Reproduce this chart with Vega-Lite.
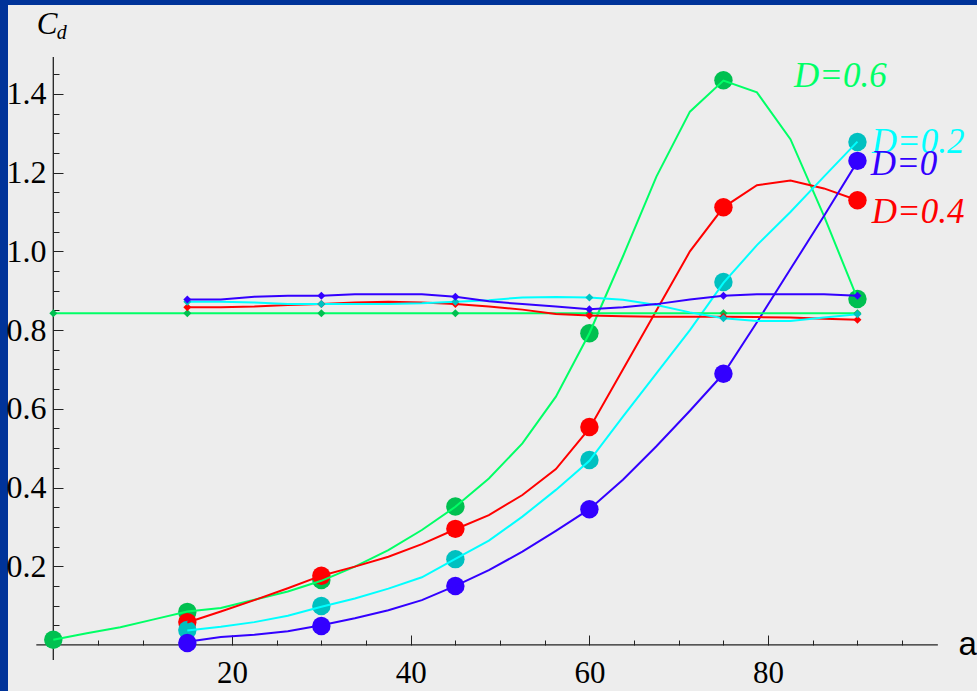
{
  "$schema": "https://vega.github.io/schema/vega-lite/v6.json",
  "width": 969,
  "height": 686,
  "autosize": {"type": "none"},
  "padding": {"left": 8, "top": 5, "right": 0, "bottom": 0},
  "background": "#003399",
  "view": {"fill": "#EDEDED", "stroke": null},
  "datasets": {
    "axislines": [
      {"a": -1.9, "a2": 99, "cd": 0, "cd2": 0},
      {"a": 0, "a2": 0, "cd": -0.038, "cd2": 1.494}
    ],
    "curves": [
      {"D": "0.6", "a": 0, "cd": 0.013}, {"D": "0.6", "a": 3.75, "cd": 0.03}, {"D": "0.6", "a": 7.5, "cd": 0.045}, {"D": "0.6", "a": 11.25, "cd": 0.065}, {"D": "0.6", "a": 15, "cd": 0.085}, {"D": "0.6", "a": 18.75, "cd": 0.094}, {"D": "0.6", "a": 22.5, "cd": 0.115}, {"D": "0.6", "a": 26.25, "cd": 0.136}, {"D": "0.6", "a": 30, "cd": 0.163}, {"D": "0.6", "a": 33.75, "cd": 0.199}, {"D": "0.6", "a": 37.5, "cd": 0.241}, {"D": "0.6", "a": 41.25, "cd": 0.292}, {"D": "0.6", "a": 45, "cd": 0.351}, {"D": "0.6", "a": 48.75, "cd": 0.423}, {"D": "0.6", "a": 52.5, "cd": 0.512}, {"D": "0.6", "a": 56.25, "cd": 0.631}, {"D": "0.6", "a": 60, "cd": 0.792}, {"D": "0.6", "a": 63.75, "cd": 0.987}, {"D": "0.6", "a": 67.5, "cd": 1.19}, {"D": "0.6", "a": 71.25, "cd": 1.355}, {"D": "0.6", "a": 75, "cd": 1.434}, {"D": "0.6", "a": 78.75, "cd": 1.404}, {"D": "0.6", "a": 82.5, "cd": 1.285}, {"D": "0.6", "a": 86.25, "cd": 1.09}, {"D": "0.6", "a": 90, "cd": 0.88},
      {"D": "0.4", "a": 15, "cd": 0.057}, {"D": "0.4", "a": 18.75, "cd": 0.085}, {"D": "0.4", "a": 22.5, "cd": 0.114}, {"D": "0.4", "a": 26.25, "cd": 0.144}, {"D": "0.4", "a": 30, "cd": 0.176}, {"D": "0.4", "a": 33.75, "cd": 0.199}, {"D": "0.4", "a": 37.5, "cd": 0.224}, {"D": "0.4", "a": 41.25, "cd": 0.256}, {"D": "0.4", "a": 45, "cd": 0.294}, {"D": "0.4", "a": 48.75, "cd": 0.33}, {"D": "0.4", "a": 52.5, "cd": 0.381}, {"D": "0.4", "a": 56.25, "cd": 0.447}, {"D": "0.4", "a": 60, "cd": 0.55}, {"D": "0.4", "a": 63.75, "cd": 0.7}, {"D": "0.4", "a": 67.5, "cd": 0.85}, {"D": "0.4", "a": 71.25, "cd": 1.0}, {"D": "0.4", "a": 75, "cd": 1.112}, {"D": "0.4", "a": 78.75, "cd": 1.168}, {"D": "0.4", "a": 82.5, "cd": 1.18}, {"D": "0.4", "a": 86.25, "cd": 1.16}, {"D": "0.4", "a": 90, "cd": 1.13},
      {"D": "0.2", "a": 15, "cd": 0.037}, {"D": "0.2", "a": 18.75, "cd": 0.046}, {"D": "0.2", "a": 22.5, "cd": 0.058}, {"D": "0.2", "a": 26.25, "cd": 0.074}, {"D": "0.2", "a": 30, "cd": 0.097}, {"D": "0.2", "a": 33.75, "cd": 0.118}, {"D": "0.2", "a": 37.5, "cd": 0.143}, {"D": "0.2", "a": 41.25, "cd": 0.172}, {"D": "0.2", "a": 45, "cd": 0.219}, {"D": "0.2", "a": 48.75, "cd": 0.265}, {"D": "0.2", "a": 52.5, "cd": 0.326}, {"D": "0.2", "a": 56.25, "cd": 0.394}, {"D": "0.2", "a": 60, "cd": 0.468}, {"D": "0.2", "a": 63.75, "cd": 0.58}, {"D": "0.2", "a": 67.5, "cd": 0.69}, {"D": "0.2", "a": 71.25, "cd": 0.8}, {"D": "0.2", "a": 75, "cd": 0.92}, {"D": "0.2", "a": 78.75, "cd": 1.016}, {"D": "0.2", "a": 82.5, "cd": 1.1}, {"D": "0.2", "a": 86.25, "cd": 1.19}, {"D": "0.2", "a": 90, "cd": 1.279},
      {"D": "0", "a": 15, "cd": 0.008}, {"D": "0", "a": 18.75, "cd": 0.02}, {"D": "0", "a": 22.5, "cd": 0.026}, {"D": "0", "a": 26.25, "cd": 0.035}, {"D": "0", "a": 30, "cd": 0.05}, {"D": "0", "a": 33.75, "cd": 0.068}, {"D": "0", "a": 37.5, "cd": 0.088}, {"D": "0", "a": 41.25, "cd": 0.114}, {"D": "0", "a": 45, "cd": 0.15}, {"D": "0", "a": 48.75, "cd": 0.19}, {"D": "0", "a": 52.5, "cd": 0.237}, {"D": "0", "a": 56.25, "cd": 0.29}, {"D": "0", "a": 60, "cd": 0.345}, {"D": "0", "a": 63.75, "cd": 0.42}, {"D": "0", "a": 67.5, "cd": 0.505}, {"D": "0", "a": 71.25, "cd": 0.595}, {"D": "0", "a": 75, "cd": 0.689}, {"D": "0", "a": 78.75, "cd": 0.82}, {"D": "0", "a": 82.5, "cd": 0.955}, {"D": "0", "a": 86.25, "cd": 1.09}, {"D": "0", "a": 90, "cd": 1.228}
    ],
    "dots": [
      {"D": "0.6", "a": 0, "cd": 0.013}, {"D": "0.6", "a": 15, "cd": 0.084}, {"D": "0.6", "a": 30, "cd": 0.165}, {"D": "0.6", "a": 45, "cd": 0.352}, {"D": "0.6", "a": 60, "cd": 0.792}, {"D": "0.6", "a": 75, "cd": 1.435}, {"D": "0.6", "a": 90, "cd": 0.879},
      {"D": "0.4", "a": 15, "cd": 0.058}, {"D": "0.4", "a": 30, "cd": 0.176}, {"D": "0.4", "a": 45, "cd": 0.295}, {"D": "0.4", "a": 60, "cd": 0.554}, {"D": "0.4", "a": 75, "cd": 1.112}, {"D": "0.4", "a": 90, "cd": 1.13},
      {"D": "0.2", "a": 15, "cd": 0.038}, {"D": "0.2", "a": 30, "cd": 0.099}, {"D": "0.2", "a": 45, "cd": 0.218}, {"D": "0.2", "a": 60, "cd": 0.47}, {"D": "0.2", "a": 75, "cd": 0.922}, {"D": "0.2", "a": 90, "cd": 1.278},
      {"D": "0", "a": 15, "cd": 0.005}, {"D": "0", "a": 30, "cd": 0.048}, {"D": "0", "a": 45, "cd": 0.15}, {"D": "0", "a": 60, "cd": 0.345}, {"D": "0", "a": 75, "cd": 0.689}, {"D": "0", "a": 90, "cd": 1.23}
    ],
    "flats": [
      {"D": "0.6", "a": 0, "cd": 0.843}, {"D": "0.6", "a": 15, "cd": 0.843}, {"D": "0.6", "a": 30, "cd": 0.843}, {"D": "0.6", "a": 45, "cd": 0.843}, {"D": "0.6", "a": 60, "cd": 0.843}, {"D": "0.6", "a": 75, "cd": 0.843}, {"D": "0.6", "a": 90, "cd": 0.843},
      {"D": "0.4", "a": 15, "cd": 0.858}, {"D": "0.4", "a": 18.75, "cd": 0.858}, {"D": "0.4", "a": 22.5, "cd": 0.86}, {"D": "0.4", "a": 26.25, "cd": 0.864}, {"D": "0.4", "a": 30, "cd": 0.866}, {"D": "0.4", "a": 33.75, "cd": 0.87}, {"D": "0.4", "a": 37.5, "cd": 0.872}, {"D": "0.4", "a": 41.25, "cd": 0.87}, {"D": "0.4", "a": 45, "cd": 0.866}, {"D": "0.4", "a": 48.75, "cd": 0.86}, {"D": "0.4", "a": 52.5, "cd": 0.852}, {"D": "0.4", "a": 56.25, "cd": 0.841}, {"D": "0.4", "a": 60, "cd": 0.837}, {"D": "0.4", "a": 63.75, "cd": 0.835}, {"D": "0.4", "a": 67.5, "cd": 0.834}, {"D": "0.4", "a": 71.25, "cd": 0.834}, {"D": "0.4", "a": 75, "cd": 0.834}, {"D": "0.4", "a": 78.75, "cd": 0.833}, {"D": "0.4", "a": 82.5, "cd": 0.832}, {"D": "0.4", "a": 86.25, "cd": 0.829}, {"D": "0.4", "a": 90, "cd": 0.826},
      {"D": "0.2", "a": 15, "cd": 0.872}, {"D": "0.2", "a": 18.75, "cd": 0.872}, {"D": "0.2", "a": 22.5, "cd": 0.87}, {"D": "0.2", "a": 26.25, "cd": 0.866}, {"D": "0.2", "a": 30, "cd": 0.866}, {"D": "0.2", "a": 33.75, "cd": 0.866}, {"D": "0.2", "a": 37.5, "cd": 0.866}, {"D": "0.2", "a": 41.25, "cd": 0.868}, {"D": "0.2", "a": 45, "cd": 0.872}, {"D": "0.2", "a": 48.75, "cd": 0.876}, {"D": "0.2", "a": 52.5, "cd": 0.883}, {"D": "0.2", "a": 56.25, "cd": 0.884}, {"D": "0.2", "a": 60, "cd": 0.883}, {"D": "0.2", "a": 63.75, "cd": 0.877}, {"D": "0.2", "a": 67.5, "cd": 0.864}, {"D": "0.2", "a": 71.25, "cd": 0.845}, {"D": "0.2", "a": 75, "cd": 0.83}, {"D": "0.2", "a": 78.75, "cd": 0.823}, {"D": "0.2", "a": 82.5, "cd": 0.823}, {"D": "0.2", "a": 86.25, "cd": 0.832}, {"D": "0.2", "a": 90, "cd": 0.84},
      {"D": "0", "a": 15, "cd": 0.878}, {"D": "0", "a": 18.75, "cd": 0.878}, {"D": "0", "a": 22.5, "cd": 0.885}, {"D": "0", "a": 26.25, "cd": 0.887}, {"D": "0", "a": 30, "cd": 0.887}, {"D": "0", "a": 33.75, "cd": 0.891}, {"D": "0", "a": 37.5, "cd": 0.891}, {"D": "0", "a": 41.25, "cd": 0.891}, {"D": "0", "a": 45, "cd": 0.885}, {"D": "0", "a": 48.75, "cd": 0.873}, {"D": "0", "a": 52.5, "cd": 0.866}, {"D": "0", "a": 56.25, "cd": 0.86}, {"D": "0", "a": 60, "cd": 0.853}, {"D": "0", "a": 63.75, "cd": 0.858}, {"D": "0", "a": 67.5, "cd": 0.866}, {"D": "0", "a": 71.25, "cd": 0.878}, {"D": "0", "a": 75, "cd": 0.887}, {"D": "0", "a": 78.75, "cd": 0.891}, {"D": "0", "a": 82.5, "cd": 0.891}, {"D": "0", "a": 86.25, "cd": 0.891}, {"D": "0", "a": 90, "cd": 0.887}
    ],
    "diamonds": [
      {"D": "0.6", "a": 0, "cd": 0.843}, {"D": "0.6", "a": 15, "cd": 0.843}, {"D": "0.6", "a": 30, "cd": 0.843}, {"D": "0.6", "a": 45, "cd": 0.843}, {"D": "0.6", "a": 60, "cd": 0.843}, {"D": "0.6", "a": 75, "cd": 0.843}, {"D": "0.6", "a": 90, "cd": 0.843},
      {"D": "0.4", "a": 15, "cd": 0.858}, {"D": "0.4", "a": 30, "cd": 0.866}, {"D": "0.4", "a": 45, "cd": 0.866}, {"D": "0.4", "a": 60, "cd": 0.837}, {"D": "0.4", "a": 75, "cd": 0.834}, {"D": "0.4", "a": 90, "cd": 0.826},
      {"D": "0.2", "a": 15, "cd": 0.872}, {"D": "0.2", "a": 30, "cd": 0.866}, {"D": "0.2", "a": 45, "cd": 0.872}, {"D": "0.2", "a": 60, "cd": 0.883}, {"D": "0.2", "a": 75, "cd": 0.83}, {"D": "0.2", "a": 90, "cd": 0.84},
      {"D": "0", "a": 15, "cd": 0.878}, {"D": "0", "a": 30, "cd": 0.887}, {"D": "0", "a": 45, "cd": 0.885}, {"D": "0", "a": 60, "cd": 0.853}, {"D": "0", "a": 75, "cd": 0.887}, {"D": "0", "a": 90, "cd": 0.887}
    ],
    "labels": [
      {"D": "0.6", "a": 82.9, "cd": 1.418, "t": "D=0.6"},
      {"D": "0.2", "a": 91.6, "cd": 1.25, "t": "D=0.2"},
      {"D": "0", "a": 91.5, "cd": 1.194, "t": "D=0"},
      {"D": "0.4", "a": 91.6, "cd": 1.073, "t": "D=0.4"}
    ],
    "cmain": [{"a": -1.85, "cd": 1.552, "t": "C"}],
    "csub": [{"a": 0.4, "cd": 1.54, "t": "d"}],
    "alabel": [{"a": 101.3, "cd": -0.026, "t": "a"}]
  },
  "encoding": {
    "x": {
      "field": "a",
      "type": "quantitative",
      "scale": {"domain": [-5.07, 103.38], "nice": false, "zero": false},
      "axis": {
        "offset": -46,
        "values": [5, 10, 15, 20, 25, 30, 35, 40, 45, 50, 55, 60, 65, 70, 75, 80, 85, 90, 95],
        "domain": false,
        "grid": false,
        "title": null,
        "tickColor": "#222222",
        "tickWidth": 1,
        "tickSize": {"condition": {"test": "datum.value % 20 === 0", "value": -10}, "value": -5},
        "labelExpr": "datum.value % 20 === 0 ? datum.label : ''",
        "labelFont": "Liberation Serif",
        "labelFontSize": 31,
        "labelColor": "#000000",
        "labelPadding": 23,
        "labelOverlap": false,
        "labelFlush": false,
        "labelBound": false
      }
    },
    "y": {
      "field": "cd",
      "type": "quantitative",
      "scale": {"domain": [-0.117, 1.626], "nice": false, "zero": false},
      "axis": {
        "offset": -45,
        "values": [0.05, 0.1, 0.15, 0.2, 0.25, 0.3, 0.35, 0.4, 0.45, 0.5, 0.55, 0.6, 0.65, 0.7, 0.75, 0.8, 0.85, 0.9, 0.95, 1.0, 1.05, 1.1, 1.15, 1.2, 1.25, 1.3, 1.35, 1.4, 1.45],
        "domain": false,
        "grid": false,
        "title": null,
        "tickColor": "#222222",
        "tickWidth": 1,
        "tickSize": {"condition": {"test": "round(datum.value * 100) % 20 === 0", "value": -10}, "value": -6},
        "labelExpr": "round(datum.value * 100) % 20 === 0 ? format(datum.value, '.1f') : ''",
        "labelFont": "Liberation Serif",
        "labelFontSize": 32,
        "labelColor": "#000000",
        "labelPadding": 17,
        "labelOverlap": false,
        "labelFlush": false,
        "labelBound": false
      }
    }
  },
  "layer": [
    {
      "data": {"name": "axislines"},
      "mark": {"type": "rule", "color": "#222222", "strokeWidth": 1.3},
      "encoding": {"x2": {"field": "a2"}, "y2": {"field": "cd2"}}
    },
    {
      "data": {"name": "dots"},
      "mark": {"type": "point", "shape": "circle", "filled": true, "size": 340, "opacity": 1},
      "encoding": {
        "color": {"field": "D", "type": "nominal", "legend": null,
          "scale": {"domain": ["0.6", "0.4", "0.2", "0"], "range": ["#00C050", "#FF0000", "#00C0C0", "#3300FF"]}}
      }
    },
    {
      "data": {"name": "curves"},
      "mark": {"type": "line", "strokeWidth": 2},
      "encoding": {
        "color": {"field": "D", "type": "nominal", "legend": null,
          "scale": {"domain": ["0.6", "0.4", "0.2", "0"], "range": ["#00FF66", "#FF0000", "#00FFFF", "#3300FF"]}}
      }
    },
    {
      "data": {"name": "flats"},
      "mark": {"type": "line", "strokeWidth": 2},
      "encoding": {
        "color": {"field": "D", "type": "nominal", "legend": null,
          "scale": {"domain": ["0.6", "0.4", "0.2", "0"], "range": ["#00FF66", "#FF0000", "#00FFFF", "#3300FF"]}}
      }
    },
    {
      "data": {"name": "diamonds"},
      "mark": {"type": "point", "shape": "diamond", "filled": true, "size": 64, "opacity": 1},
      "encoding": {
        "color": {"field": "D", "type": "nominal", "legend": null,
          "scale": {"domain": ["0.6", "0.4", "0.2", "0"], "range": ["#00C050", "#FF0000", "#00C0C0", "#3300FF"]}}
      }
    },
    {
      "data": {"name": "labels"},
      "mark": {"type": "text", "font": "Liberation Serif", "fontStyle": "italic", "fontSize": 35, "align": "left", "baseline": "alphabetic"},
      "encoding": {
        "text": {"field": "t"},
        "color": {"field": "D", "type": "nominal", "legend": null,
          "scale": {"domain": ["0.6", "0.4", "0.2", "0"], "range": ["#00FF66", "#FF0000", "#00FFFF", "#3300FF"]}}
      }
    },
    {
      "data": {"name": "cmain"},
      "mark": {"type": "text", "font": "Liberation Serif", "fontStyle": "italic", "fontSize": 31, "align": "left", "baseline": "alphabetic", "color": "#000000"},
      "encoding": {"text": {"field": "t"}}
    },
    {
      "data": {"name": "csub"},
      "mark": {"type": "text", "font": "Liberation Serif", "fontStyle": "italic", "fontSize": 20, "align": "left", "baseline": "alphabetic", "color": "#000000"},
      "encoding": {"text": {"field": "t"}}
    },
    {
      "data": {"name": "alabel"},
      "mark": {"type": "text", "font": "Liberation Sans", "fontSize": 33, "align": "left", "baseline": "alphabetic", "color": "#000000"},
      "encoding": {"text": {"field": "t"}}
    }
  ],
  "resolve": {"scale": {"color": "independent"}}
}
